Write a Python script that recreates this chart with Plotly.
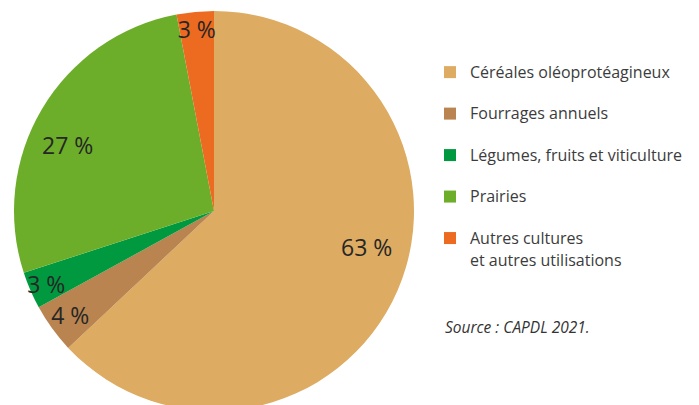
import plotly.graph_objects as go

categories = ["Céréales oléoprotéagineux", "Fourrages annuels",
              "Légumes, fruits et viticulture", "Prairies",
              "Autres cultures<br>et autres utilisations"]
values = [63, 4, 3, 27, 3]
value_labels = ["63 %", "4 %", "3 %", "27 %", "3 %"]
colors = ["#DDAB61", "#B9844F", "#00993F", "#6CAE29", "#EC6B21"]

W, H = 699, 422

# labels of the two large slices are placed as free text (further out than plotly's default)
big_label_pos = {0: (366, 247), 3: (67, 145)}

legend_labels = []
for c in categories:
    parts = c.split("<br>")
    spans = []
    for k, p in enumerate(parts):
        style = "font-size:16px" + (";baseline-shift:-3px" if k > 0 else "")
        spans.append(f'<span style="{style}">{p}</span>')
    txt = "<br>".join(spans)
    if len(parts) == 1:
        txt += "<br> "
    legend_labels.append(txt)

inside_text = [("" if i in big_label_pos else t) for i, t in enumerate(value_labels)]

fig = go.Figure(go.Pie(
    labels=legend_labels,
    values=values,
    text=inside_text,
    textinfo="text",
    textposition="inside",
    insidetextorientation="horizontal",
    sort=False,
    direction="clockwise",
    rotation=0,
    marker=dict(colors=colors, line=dict(width=0)),
    textfont=dict(family="Open Sans", size=23, color="#262626"),
    domain=dict(x=[14 / W, 414 / W], y=[(H - 411) / H, (H - 11) / H]),
    hoverinfo="skip",
))

annotations = []
for i, (px, py) in big_label_pos.items():
    annotations.append(dict(
        text=value_labels[i], x=px / W, y=1 - py / H, xref="paper", yref="paper",
        xanchor="center", yanchor="middle", showarrow=False,
        font=dict(family="Open Sans", size=23, color="#262626"),
    ))
annotations.append(dict(
    text="<i>Source : CAPDL 2021.</i>",
    x=443 / W, y=1 - 327 / H, xref="paper", yref="paper",
    xanchor="left", yanchor="middle", showarrow=False,
    font=dict(family="Open Sans", size=15.5, color="#333333"),
))

fig.update_layout(
    width=W, height=H,
    margin=dict(l=0, r=0, t=0, b=0),
    paper_bgcolor="white",
    plot_bgcolor="white",
    uniformtext=dict(minsize=23, mode="show"),
    showlegend=True,
    legend=dict(
        x=430 / W, xanchor="left",
        y=1 - 56 / H, yanchor="top",
        font=dict(family="Open Sans", size=14.8, color="#3c3c3c"),
        valign="top",
        bgcolor="rgba(0,0,0,0)",
    ),
    annotations=annotations,
)

fig.write_html("out.html", config={"displayModeBar": False},
               post_script="document.body.style.margin='0';document.body.style.overflow='hidden';document.documentElement.style.overflow='hidden';")
